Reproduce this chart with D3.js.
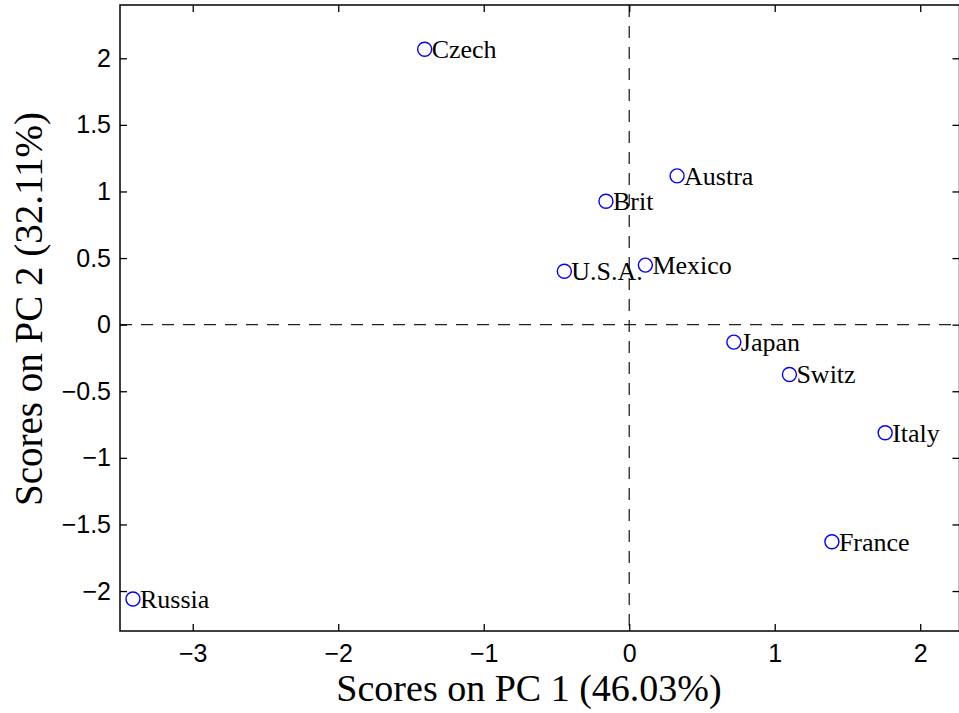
<!DOCTYPE html>
<html><head><meta charset="utf-8">
<script src="https://cdn.jsdelivr.net/npm/d3@7"></script>
<style>body{margin:0;background:#fff;overflow:hidden}</style>
</head><body>
<svg id="chart" width="959" height="713"></svg>
<script>
const countries = ["Czech","Austra","Brit","U.S.A.","Mexico","Japan","Switz","Italy","France","Russia"];
const pc1 = [-1.406, 0.329, -0.160, -0.446, 0.111, 0.719, 1.101, 1.759, 1.393, -3.411];
const pc2 = [2.068, 1.117, 0.927, 0.401, 0.447, -0.131, -0.374, -0.812, -1.630, -2.060];
const xTicks = [-3, -2, -1, 0, 1, 2];
const yTicks = [-2, -1.5, -1, -0.5, 0, 0.5, 1, 1.5, 2];
const xTitle = "Scores on PC 1 (46.03%)";
const yTitle = "Scores on PC 2 (32.11%)";

const L = 120, R = 959.5, T = 5, B = 631;
const svg = d3.select("#chart");
const x = d3.scaleLinear().domain([-3.5, 2.27]).range([L, R]);
const y = d3.scaleLinear().domain([-2.3, 2.4]).range([B, T]);
const fmt = v => (v < 0 ? "\u2212" : "") + String(Math.abs(v));
const tickFont = "'Liberation Sans', Arial, sans-serif";
const serif = "'Liberation Serif', 'Times New Roman', serif";

// dashed zero lines
svg.append("line").attr("x1", x(0)).attr("x2", x(0)).attr("y1", T).attr("y2", B)
  .attr("stroke", "#222").attr("stroke-width", 1.3).attr("stroke-dasharray", "12,9");
svg.append("line").attr("x1", L).attr("x2", R).attr("y1", y(0)).attr("y2", y(0))
  .attr("stroke", "#222").attr("stroke-width", 1.3).attr("stroke-dasharray", "12,9");

// axes
const tl = 7;
const axB = svg.append("g").attr("transform", `translate(0,${B})`)
  .call(d3.axisBottom(x).tickValues(xTicks).tickSizeInner(-tl).tickSizeOuter(0).tickPadding(16).tickFormat(fmt));
const axT = svg.append("g").attr("transform", `translate(0,${T})`)
  .call(d3.axisTop(x).tickValues(xTicks).tickSizeInner(-tl).tickSizeOuter(0).tickFormat(""));
const axL = svg.append("g").attr("transform", `translate(${L},0)`)
  .call(d3.axisLeft(y).tickValues(yTicks).tickSizeInner(-tl).tickSizeOuter(0).tickPadding(9).tickFormat(fmt));
const axR = svg.append("g").attr("transform", `translate(${R},0)`)
  .call(d3.axisRight(y).tickValues(yTicks).tickSizeInner(-tl).tickSizeOuter(0).tickFormat(""));
[axB, axT, axL, axR].forEach(g => {
  g.select(".domain").remove();
  g.selectAll(".tick line").attr("stroke", "#000").attr("stroke-width", 1.3);
  g.selectAll("text").attr("fill", "#000").style("font-family", tickFont).style("font-size", "25px");
});
axB.selectAll("text").attr("dy", "0.71em").attr("y", 13);

svg.append("rect").attr("x", L).attr("y", T).attr("width", R - L).attr("height", B - T)
  .attr("fill", "none").attr("stroke", "#000").attr("stroke-width", 1.5);

// points
const g = svg.append("g");
countries.forEach((c, i) => {
  g.append("circle").attr("cx", x(pc1[i])).attr("cy", y(pc2[i])).attr("r", 7)
    .attr("fill", "none").attr("stroke", "#0000ff").attr("stroke-width", 1.4);
  g.append("text").attr("x", x(pc1[i]) + 7).attr("y", y(pc2[i]) + 9)
    .text(c).style("font-family", serif).style("font-size", "26px").attr("fill", "#000");
});

// titles
svg.append("text").attr("x", 529).attr("y", 701).attr("text-anchor", "middle")
  .style("font-family", serif).style("font-size", "38px").text(xTitle);
svg.append("text").attr("transform", "translate(42,309) rotate(-90)").attr("text-anchor", "middle")
  .style("font-family", serif).style("font-size", "39px").text(yTitle);
</script>
</body></html>
